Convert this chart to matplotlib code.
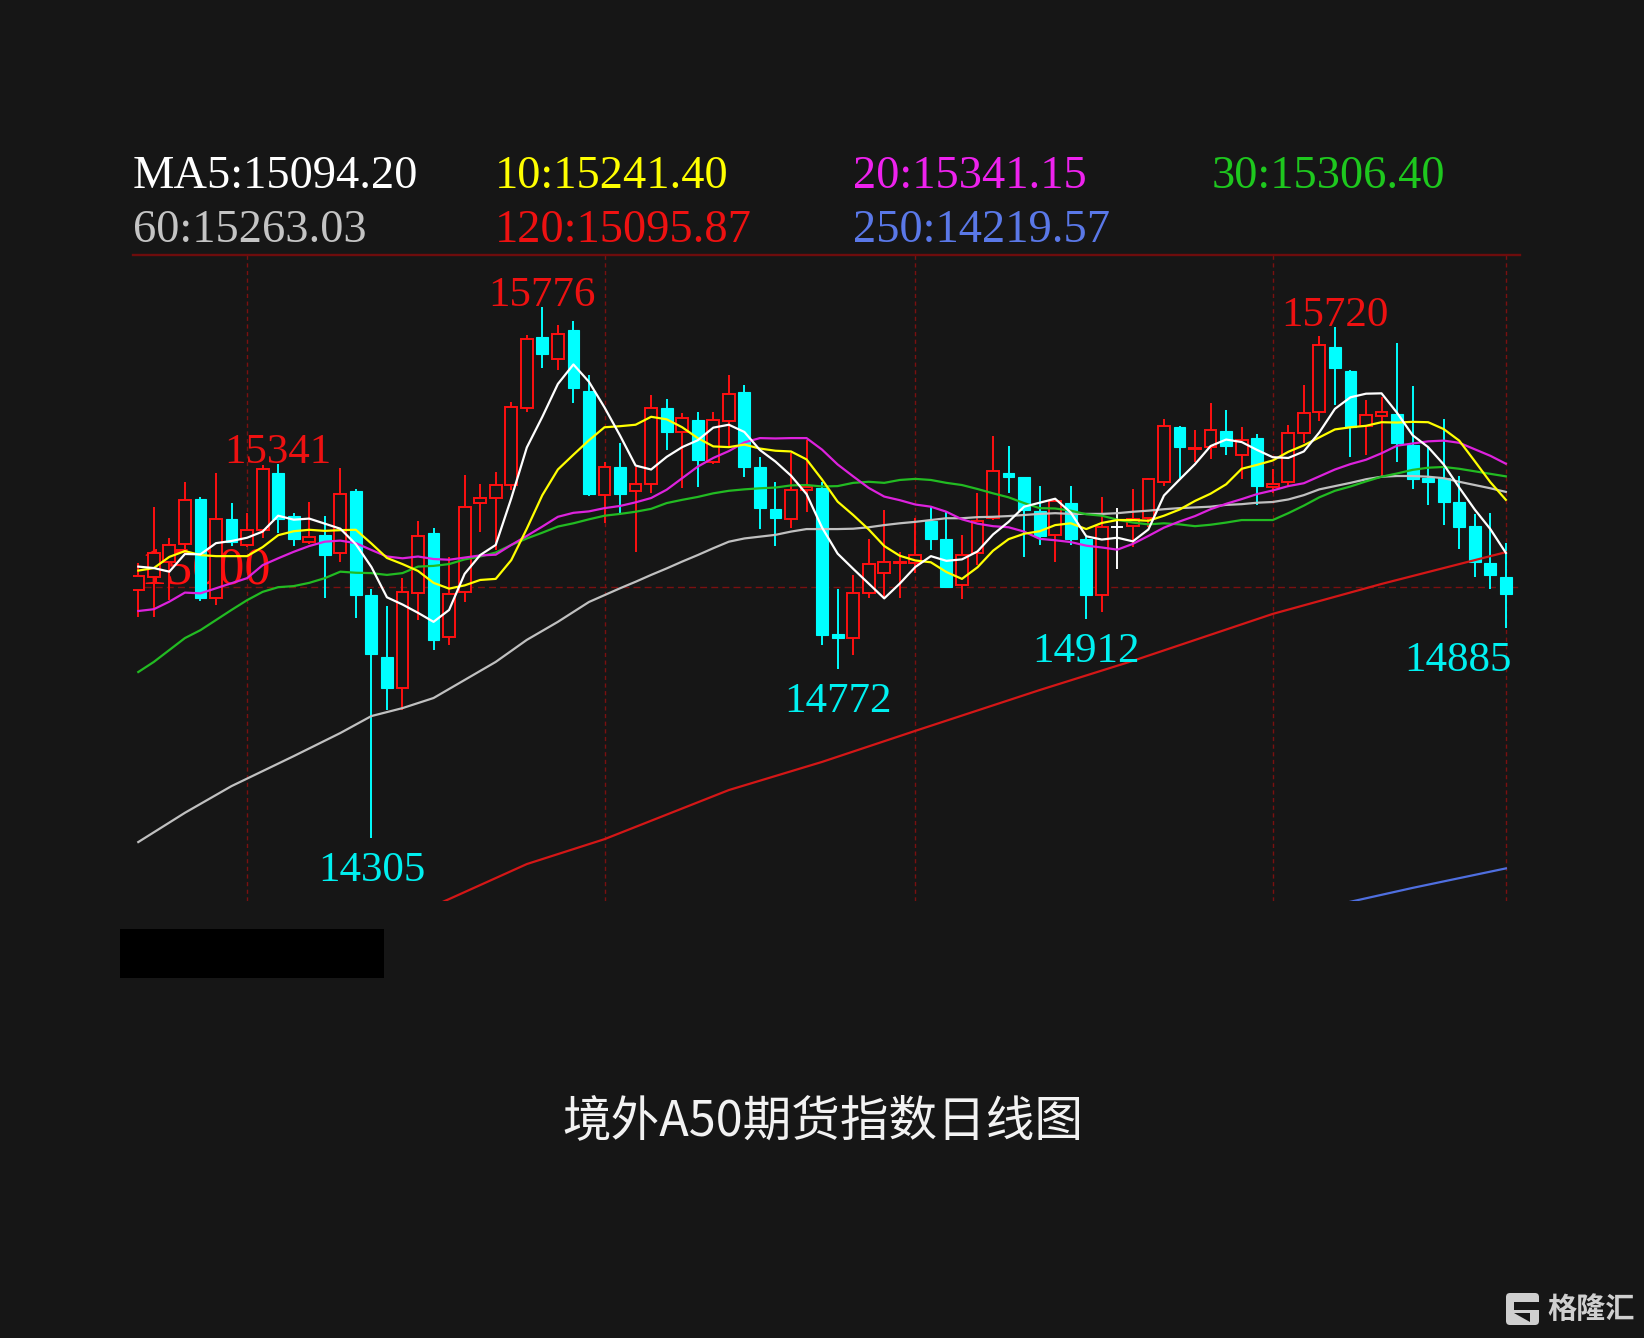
import matplotlib
matplotlib.use("Agg")
import matplotlib.pyplot as plt
from matplotlib.patches import Rectangle, Polygon, FancyBboxPatch
from matplotlib.transforms import IdentityTransform

# ---------------------------
# daily candles (A50 futures)
# ---------------------------
opens = [14991, 15028, 15070, 15119, 15243, 14968, 15187, 15116, 15157, 15315,
         15196, 15125, 15144, 15093, 15266, 14977, 14805, 14721, 14984, 15150,
         14860, 14987, 15231, 15245, 15282, 15495, 15691, 15630, 15712, 15543,
         15254, 15333, 15266, 15285, 15495, 15430, 15462, 15347, 15458, 15541,
         15331, 15215, 15187, 15268, 15273, 14869, 14857, 14984, 15038, 15065,
         15065, 15181, 15132, 15005, 15093, 15190, 15315, 15303, 15211, 15144,
         15231, 15132, 14977, 15167, 15169, 15190, 15291, 15442, 15381, 15387,
         15433, 15365, 15412, 15276, 15291, 15425, 15485, 15664, 15599, 15446,
         15473, 15479, 15393, 15301, 15301, 15236, 15169, 15065, 15028]
highs = [15066, 15222, 15135, 15291, 15248, 15315, 15233, 15204, 15338, 15341,
         15205, 15236, 15196, 15330, 15270, 14993, 14947, 15024, 15181, 15162,
         15084, 15310, 15285, 15319, 15513, 15698, 15776, 15725, 15735, 15587,
         15347, 15398, 15333, 15531, 15520, 15481, 15485, 15485, 15587, 15559,
         15359, 15291, 15372, 15407, 15291, 14993, 15033, 15132, 15213, 15097,
         15190, 15224, 15208, 15144, 15259, 15418, 15390, 15305, 15279, 15246,
         15279, 15139, 15250, 15218, 15270, 15301, 15464, 15446, 15435, 15508,
         15490, 15444, 15423, 15326, 15448, 15559, 15695, 15720, 15600, 15518,
         15527, 15675, 15556, 15388, 15464, 15307, 15202, 15204, 15122]
lows = [14917, 14917, 14964, 15093, 14962, 14950, 15113, 15110, 15135, 15148,
        15113, 15119, 14968, 15070, 14913, 14305, 14659, 14659, 14908, 14825,
        14839, 14959, 15153, 15102, 15268, 15485, 15605, 15601, 15508, 15252,
        15176, 15199, 15097, 15259, 15379, 15273, 15276, 15340, 15384, 15305,
        15159, 15113, 15162, 15208, 14839, 14772, 14811, 14968, 14968, 14968,
        15038, 15102, 14998, 14966, 15061, 15185, 15259, 15084, 15116, 15070,
        15116, 14912, 14931, 15049, 15111, 15167, 15279, 15301, 15347, 15353,
        15365, 15298, 15227, 15259, 15277, 15399, 15458, 15504, 15361, 15365,
        15307, 15347, 15270, 15227, 15171, 15104, 15028, 14993, 14885]
closes = [15030, 15095, 15116, 15241, 14968, 15187, 15125, 15157, 15326, 15189,
          15132, 15139, 15088, 15256, 14977, 14814, 14719, 14987, 15141, 14853,
          14980, 15220, 15245, 15282, 15499, 15686, 15645, 15700, 15550, 15257,
          15331, 15256, 15285, 15496, 15430, 15467, 15351, 15462, 15533, 15333,
          15218, 15190, 15268, 15276, 14867, 14857, 14984, 15063, 15070, 15070,
          15088, 15132, 15000, 15088, 15183, 15322, 15305, 15213, 15141, 15239,
          15132, 14977, 15167, 15167, 15187, 15298, 15446, 15387, 15384, 15435,
          15390, 15407, 15279, 15285, 15425, 15481, 15670, 15605, 15444, 15476,
          15485, 15399, 15298, 15291, 15236, 15165, 15070, 15033, 14980]

# moving averages
ma5 = [15056, 15052, 15042, 15091, 15090, 15121, 15127, 15136, 15153, 15197,
       15186, 15189, 15175, 15161, 15118, 15055, 14971, 14951, 14928, 14903,
       14936, 15036, 15088, 15116, 15245, 15386, 15471, 15562, 15616, 15568,
       15497, 15419, 15336, 15325, 15360, 15387, 15406, 15441, 15449, 15429,
       15379, 15347, 15308, 15257, 15164, 15092, 15050, 15009, 14968, 15009,
       15055, 15085, 15072, 15076, 15098, 15145, 15180, 15222, 15233, 15244,
       15206, 15140, 15131, 15136, 15126, 15159, 15253, 15297, 15340, 15390,
       15408, 15401, 15379, 15359, 15357, 15375, 15428, 15493, 15525, 15535,
       15536, 15482, 15420, 15387, 15339, 15275, 15214, 15160, 15094]
ma10 = [15045, 15052, 15083, 15099, 15088, 15085, 15085, 15085, 15110, 15143,
        15154, 15158, 15155, 15157, 15158, 15120, 15080, 15063, 15044, 15011,
        14995, 15004, 15019, 15022, 15074, 15161, 15254, 15325, 15366, 15406,
        15442, 15445, 15449, 15471, 15464, 15442, 15412, 15389, 15387, 15394,
        15383, 15377, 15375, 15353, 15297, 15236, 15199, 15159, 15113, 15086,
        15073, 15068, 15041, 15022, 15054, 15100, 15132, 15147, 15154, 15171,
        15176, 15160, 15177, 15185, 15185, 15183, 15197, 15214, 15238, 15258,
        15284, 15327, 15338, 15350, 15374, 15392, 15414, 15436, 15442, 15446,
        15456, 15455, 15457, 15456, 15437, 15405, 15348, 15290, 15241]
ma20 = [14933, 14938, 14959, 14984, 14982, 14996, 15010, 15024, 15060, 15079,
        15097, 15113, 15125, 15128, 15121, 15102, 15084, 15079, 15084, 15077,
        15075, 15081, 15087, 15089, 15116, 15141, 15167, 15194, 15205, 15209,
        15218, 15224, 15234, 15246, 15269, 15301, 15333, 15357, 15376, 15400,
        15412, 15411, 15412, 15412, 15380, 15339, 15306, 15274, 15250, 15240,
        15228, 15222, 15208, 15187, 15175, 15168, 15165, 15153, 15133, 15129,
        15124, 15114, 15109, 15103, 15119, 15141, 15164, 15181, 15196, 15215,
        15230, 15243, 15257, 15267, 15279, 15287, 15306, 15325, 15340, 15352,
        15370, 15391, 15397, 15403, 15405, 15399, 15381, 15363, 15341]
ma30 = [14764, 14792, 14825, 14858, 14880, 14908, 14936, 14963, 14986, 14999,
        15002, 15011, 15024, 15042, 15039, 15038, 15033, 15038, 15056, 15058,
        15063, 15076, 15084, 15095, 15116, 15134, 15150, 15167, 15176, 15187,
        15197, 15202, 15208, 15216, 15232, 15241, 15249, 15259, 15266, 15270,
        15273, 15275, 15281, 15282, 15278, 15279, 15288, 15291, 15288, 15296,
        15299, 15296, 15288, 15282, 15271, 15259, 15248, 15232, 15218, 15217,
        15211, 15201, 15197, 15186, 15178, 15173, 15176, 15173, 15168, 15172,
        15178, 15185, 15185, 15185, 15204, 15225, 15248, 15266, 15278, 15292,
        15305, 15314, 15324, 15330, 15332, 15327, 15320, 15313, 15306]
ma60_idx = [0, 3, 6, 10, 13, 15, 17, 19, 21, 23, 25, 27, 29] + list(range(30, 89))
ma60 = [14293, 14374, 14448, 14531, 14595, 14642, 14664, 14692, 14742, 14792,
        14853, 14903, 14958,
        14977, 14996, 15014, 15033, 15051, 15070, 15088, 15107, 15125, 15134,
        15139, 15144, 15153, 15160, 15160, 15160, 15161, 15165, 15171, 15176,
        15180, 15185, 15190, 15190, 15193, 15194, 15196, 15199, 15202, 15204,
        15202, 15202, 15202, 15204, 15208, 15211, 15215, 15218, 15220, 15222,
        15227, 15229, 15233, 15235, 15242, 15254, 15270, 15279, 15288, 15298,
        15305, 15307, 15307, 15305, 15301, 15291, 15282, 15273, 15263]
ma120_idx = [19, 20, 25, 30, 38, 44, 50, 58, 64, 73, 80, 88]
ma120 = [14116, 14135, 14232, 14301, 14437, 14515, 14601, 14714, 14795, 14925,
         15008, 15096]
ma250_idx = [77, 82, 88]
ma250 = [14118, 14166, 14220]

legend_rows = [
    [("MA5:15094.20", "#ffffff"), ("10:15241.40", "#ffff00"),
     ("20:15341.15", "#ee22ee"), ("30:15306.40", "#1ec81e")],
    [("60:15263.03", "#c4c4c4"), ("120:15095.87", "#ee1111"),
     ("250:14219.57", "#5a78e8")],
]
high_marks = [9, 26, 77]
low_marks = [15, 45, 61, 88]
month_lines = [7, 30, 50, 73, 88]

BG = "#161616"
UP = "#ff1010"
DOWN = "#00ffff"
GRID = "#7a1010"
W, H = 1644, 1338

fig = plt.figure(figsize=(W / 100, H / 100), dpi=100, facecolor=BG)
ax = fig.add_axes([133 / W, (H - 901) / H, (1520 - 133) / W, (901 - 255) / H])
ax.set_facecolor(BG)
ax.set_xlim(-0.34, 88.91)
ax.set_ylim(14129.7, 15919.2)
ax.set_xticks([])
ax.set_yticks([])
for side in ("left", "right", "bottom"):
    ax.spines[side].set_visible(False)
ax.spines["top"].set_color("#6e0c0c")
ax.spines["top"].set_linewidth(1.7)

# grille pointillée
ax.axhline(15000, color=GRID, lw=1.0, ls=(0, (5, 3)), zorder=0.4)
for m in month_lines:
    ax.axvline(m, color=GRID, lw=1.0, ls=(0, (3, 2.5)), zorder=0.4)
ax.text(0.11, 15010, "15000", color=UP, fontsize=37.5, family="Liberation Serif",
        ha="left", va="baseline", zorder=0.5)

# candles
bw = 0.76
for i in range(len(opens)):
    o, h, l, c = opens[i], highs[i], lows[i], closes[i]
    if c > o:
        ax.vlines(i, c, h, color=UP, lw=1.4, zorder=2)
        ax.vlines(i, l, o, color=UP, lw=1.4, zorder=2)
        ax.add_patch(Rectangle((i - bw / 2, o), bw, c - o, facecolor=BG,
                               edgecolor=UP, lw=1.4, zorder=2))
    elif c < o:
        ax.vlines(i, l, h, color=DOWN, lw=1.4, zorder=2)
        ax.add_patch(Rectangle((i - bw / 2, c), bw, o - c, facecolor=DOWN,
                               edgecolor=DOWN, lw=0.8, zorder=2))
    else:
        ax.vlines(i, l, h, color="white", lw=1.4, zorder=2)
        ax.hlines(o, i - bw / 2, i + bw / 2, color="white", lw=1.4, zorder=2)

# moyennes mobiles
ax.plot(ma250_idx, ma250, color="#4f6fe0", lw=1.6, zorder=3)
ax.plot(ma120_idx, ma120, color="#d41616", lw=1.6, zorder=3)
ax.plot(ma60_idx, ma60, color="#c0c0c0", lw=1.6, zorder=3)
ax.plot(range(len(ma30)), ma30, color="#22bb22", lw=1.6, zorder=3)
ax.plot(range(len(ma20)), ma20, color="#dd22dd", lw=1.6, zorder=3)
ax.plot(range(len(ma10)), ma10, color="#ffff00", lw=1.6, zorder=3)
ax.plot(range(len(ma5)), ma5, color="#ffffff", lw=1.6, zorder=3)

# plus haut / plus bas
for i in high_marks:
    ax.annotate(str(highs[i]), xy=(i, highs[i]), xytext=(0, 1), textcoords="offset pixels",
                ha="center", va="baseline", color="#ee1111", fontsize=31,
                family="Liberation Serif", zorder=4)
for i in low_marks:
    ha, dx = ("right", 6) if i == low_marks[-1] else ("center", 0)
    ax.annotate(str(lows[i]), xy=(i, lows[i]), xytext=(dx, -43), textcoords="offset pixels",
                ha=ha, va="baseline", color="#00f0f0", fontsize=31,
                family="Liberation Serif", zorder=4)

# légende MA
col_x = [133, 495, 853, 1212]
row_y = [188, 241.5]
for r, row in enumerate(legend_rows):
    for k, (txt, col) in enumerate(row):
        fig.text(col_x[k] / W, 1 - row_y[r] / H, txt, color=col, fontsize=33.5,
                 family="Liberation Serif", va="baseline", ha="left")

# bloc noir masqué
fig.add_artist(Rectangle((120, H - 977.7), 264, 48.7, facecolor="black",
                         edgecolor="none", transform=IdentityTransform()))

# titre
fig.text(822.5 / W, 1 - 1121.7 / H, "境外A50期货指数日线图", color="#f2f2f2",
         fontsize=35, family=["Noto Sans CJK SC", "DejaVu Sans"], ha="center", va="center")

# filigrane
fig.add_artist(FancyBboxPatch((1506, H - 1325), 33, 32, boxstyle="round,pad=0,rounding_size=4",
                              facecolor="#cfcfcf", edgecolor="none", transform=IdentityTransform()))
fig.add_artist(Rectangle((1514, H - 1310), 26, 8, facecolor=BG, edgecolor="none",
                         transform=IdentityTransform()))
fig.add_artist(Polygon([(1514, H - 1313), (1530, H - 1313), (1530, H - 1322)], closed=True,
                       facecolor=BG, edgecolor="none", transform=IdentityTransform()))
fig.text(1591 / W, 1 - 1309 / H, "格隆汇", color="#cfcfcf", fontsize=21, weight="bold",
         family=["Noto Sans CJK SC", "DejaVu Sans"], ha="center", va="center")

fig.savefig("out.png", dpi=100, facecolor=BG)
